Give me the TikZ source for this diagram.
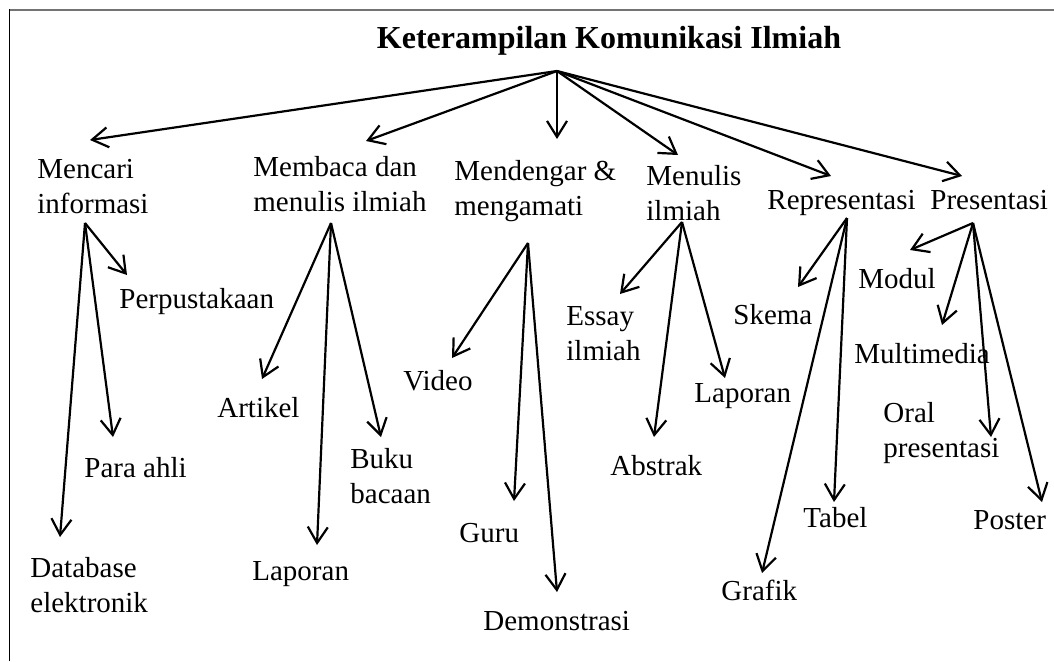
\documentclass[tikz,border=0pt]{standalone}
\usepackage{fontspec}
\setmainfont{Liberation Serif}
\usetikzlibrary{arrows.meta}

\begin{document}
\begin{tikzpicture}[x=0.5pt,y=-0.5pt,
                    every node/.style={anchor=base west,inner sep=0pt,align=left,font=\fontsize{14.5}{17.5}\selectfont},
                    judul/.style={anchor=base,font=\fontsize{16}{19}\selectfont\bfseries},
                    arr/.style={line width=1.1pt,-{Straight Barb[length=8pt,width=10pt,line width=1.1pt]}}]
  \useasboundingbox (0,0) rectangle (1054,661);
  % bingkai
  \draw[line width=1pt,black!55] (9,9.5) -- (1054,9.5);
  \draw[line width=0.8pt] (9.5,9) -- (9.5,661);

  \node[judul] (kki) at (609,48) {Keterampilan Komunikasi Ilmiah};
  \coordinate (kki-s) at (557,71);

  % tingkat 1 (dua baris: titik = baris kedua)
  \node (inf) at (37,213) {Mencari\\informasi};
  \node (baca) at (253,211) {Membaca dan\\menulis ilmiah};
  \node (dengar) at (454,215) {Mendengar \&\\mengamati};
  \node (nulis) at (646,220) {Menulis\\ilmiah};
  \node (rep) at (767,209) {Representasi};
  \node (pres) at (930,209) {Presentasi};
  \coordinate (inf-t) at (90,140);
  \coordinate (baca-t) at (366,141);
  \coordinate (dengar-t) at (557,139);
  \coordinate (nulis-t) at (678,155);
  \coordinate (rep-t) at (831,176);
  \coordinate (pres-t) at (962,176);
  \draw[arr] (kki-s) -- (inf-t);
  \draw[arr] (kki-s) -- (baca-t);
  \draw[arr] (kki-s) -- (dengar-t);
  \draw[arr] (kki-s) -- (nulis-t);
  \draw[arr] (kki-s) -- (rep-t);
  \draw[arr] (kki-s) -- (pres-t);

  % mencari informasi
  \coordinate (inf-s) at (85,223);
  \node (perp) at (119,308) {Perpustakaan};
  \node (ahli) at (84,477) {Para ahli};
  \node (db) at (30,612) {Database\\elektronik};
  \coordinate (perp-t) at (127,275);
  \coordinate (ahli-t) at (113,437);
  \coordinate (db-t) at (60,537);
  \draw[arr] (inf-s) -- (perp-t);
  \draw[arr] (inf-s) -- (ahli-t);
  \draw[arr] (inf-s) -- (db-t);

  % membaca dan menulis ilmiah
  \coordinate (baca-s) at (331,223);
  \node (artikel) at (217,417) {Artikel};
  \node (lapa) at (252,580) {Laporan};
  \node (buku) at (350,503) {Buku\\bacaan};
  \coordinate (artikel-t) at (262,379);
  \coordinate (lapa-t) at (317,545);
  \coordinate (buku-t) at (381,437);
  \draw[arr] (baca-s) -- (artikel-t);
  \draw[arr] (baca-s) -- (lapa-t);
  \draw[arr] (baca-s) -- (buku-t);

  % mendengar & mengamati
  \coordinate (dengar-s) at (528,243);
  \node (video) at (403,390) {Video};
  \node (guru) at (459,542) {Guru};
  \node (demo) at (483,630) {Demonstrasi};
  \coordinate (video-t) at (452,358);
  \coordinate (guru-t) at (514,501);
  \coordinate (demo-t) at (557,592);
  \draw[arr] (dengar-s) -- (video-t);
  \draw[arr] (dengar-s) -- (guru-t);
  \draw[arr] (dengar-s) -- (demo-t);

  % menulis ilmiah
  \coordinate (nulis-s) at (682,222);
  \node (essay) at (566,360) {Essay\\ilmiah};
  \node (abstrak) at (610,475) {Abstrak};
  \node (lapb) at (694,402) {Laporan};
  \coordinate (essay-t) at (620,294);
  \coordinate (abstrak-t) at (654,437);
  \coordinate (lapb-t) at (725,378);
  \draw[arr] (nulis-s) -- (essay-t);
  \draw[arr] (nulis-s) -- (abstrak-t);
  \draw[arr] (nulis-s) -- (lapb-t);

  % representasi
  \coordinate (rep-s) at (847,218);
  \node (skema) at (733,324) {Skema};
  \node (grafik) at (721,600) {Grafik};
  \node (tabel) at (803,527) {Tabel};
  \coordinate (skema-t) at (798,287);
  \coordinate (grafik-t) at (762,573);
  \coordinate (tabel-t) at (834,502);
  \draw[arr] (rep-s) -- (skema-t);
  \draw[arr] (rep-s) -- (grafik-t);
  \draw[arr] (rep-s) -- (tabel-t);

  % presentasi
  \coordinate (pres-s) at (973,223);
  \node (modul) at (858,288) {Modul};
  \node (multi) at (854,363) {Multimedia};
  \node (oral) at (883,457) {Oral\\presentasi};
  \node (poster) at (973,529) {Poster};
  \coordinate (modul-t) at (910,250);
  \coordinate (multi-t) at (942,325);
  \coordinate (oral-t) at (991,437);
  \coordinate (poster-t) at (1042,502);
  \draw[arr] (pres-s) -- (modul-t);
  \draw[arr] (pres-s) -- (multi-t);
  \draw[arr] (pres-s) -- (oral-t);
  \draw[arr] (pres-s) -- (poster-t);
\end{tikzpicture}
\end{document}
